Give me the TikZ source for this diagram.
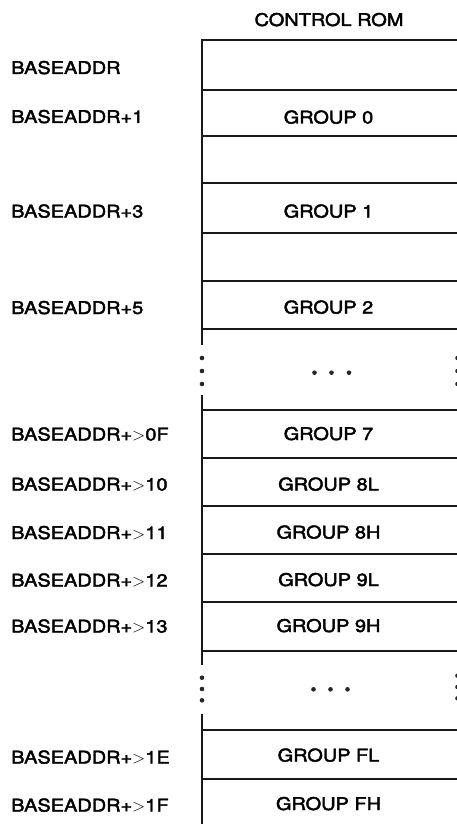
\documentclass[tikz,border=0pt]{standalone}
\usepackage{fontspec}
\setmainfont{TeX Gyre Heros}[FakeStretch=1.14,FakeBold=2.4]
\tikzset{
  rule/.style={line width=2.3pt, draw=black!90},
  addr/.style={anchor=base west, font=\fontsize{17.5}{20}\selectfont, inner sep=0pt},
  grp/.style={anchor=base, font=\fontsize{17.5}{20}\selectfont, inner sep=0pt},
  title/.style={anchor=base, font=\fontsize{17.5}{20}\selectfont, inner sep=0pt},
  blob/.style={fill=black!85, draw=none},
}
\begin{document}
\begin{tikzpicture}[x=1pt,y=-1pt]
\useasboundingbox (0,0) rectangle (456,824);
% title
\node[title] (title) at (329,26) {CONTROL ROM};
% frame
\draw[rule] (460,40) -- (202,40) -- (202,345);
\draw[rule] (202,395) -- (202,665);
\draw[rule] (202,714) -- (202,828);
\foreach \y in {90,136,183,233,281,329,410,458,506,554,602,651,730,779}
  \draw[rule] (202,\y) -- (460,\y);
% gap dots
\foreach \y in {358,371,384} {
  \fill[blob] (202,\y) circle (2.3);
  \fill[blob] (457.5,\y) circle (2.3);
}
\foreach \x in {314.5,331.5,349} \fill[blob] (\x,372.7) circle (2.3);
\foreach \y in {677.7,689,700.3} {
  \fill[blob] (202,\y) circle (2.3);
  \fill[blob] (457.5,\y-2) circle (2.3);
}
\foreach \x in {313.5,330.5,347.5} \fill[blob] (\x,689.3) circle (2.3);
% address labels
\node[addr] (a00) at (11,74)    {BASEADDR};
\node[addr] (a01) at (11,123)   {BASEADDR+1};
\node[addr] (a03) at (11,217.5) {BASEADDR+3};
\node[addr] (a05) at (11,314)   {BASEADDR+5};
\node[addr] (a0F) at (11,440.5) {BASEADDR+$>$0F};
\node[addr] (a10) at (11,490.5) {BASEADDR+$>$10};
\node[addr] (a11) at (11,539)   {BASEADDR+$>$11};
\node[addr] (a12) at (11,586.5) {BASEADDR+$>$12};
\node[addr] (a13) at (11,632.5) {BASEADDR+$>$13};
\node[addr] (a1E) at (11,763.5) {BASEADDR+$>$1E};
\node[addr] (a1F) at (11,811.5) {BASEADDR+$>$1F};
% group labels
\node[grp] (g0)  at (328.5,123.5) {GROUP 0};
\node[grp] (g1)  at (328.5,217.5) {GROUP 1};
\node[grp] (g2)  at (328.5,313.5) {GROUP 2};
\node[grp] (g7)  at (328.5,440)   {GROUP 7};
\node[grp] (g8l) at (328.5,490.5) {GROUP 8L};
\node[grp] (g8h) at (328.5,538.5) {GROUP 8H};
\node[grp] (g9l) at (328.5,586)   {GROUP 9L};
\node[grp] (g9h) at (328.5,632)   {GROUP 9H};
\node[grp] (gfl) at (328.5,761.5) {GROUP FL};
\node[grp] (gfh) at (328.5,810)   {GROUP FH};
\end{tikzpicture}
\end{document}
